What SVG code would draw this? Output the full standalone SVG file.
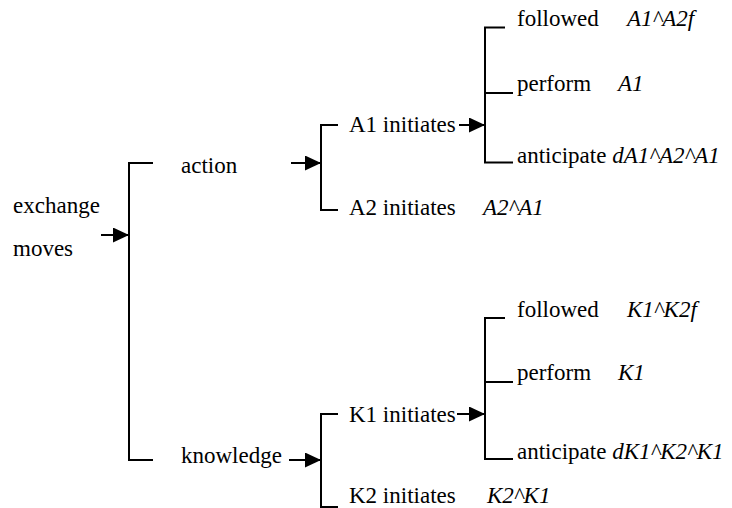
<svg xmlns="http://www.w3.org/2000/svg" width="732" height="508" viewBox="0 0 732 508">
  <style>
    text { font-family: "Liberation Serif", serif; font-size: 23px; fill: #000; }
    .it { font-style: italic; }
    .br { fill: none; stroke: #000; stroke-width: 2; }
    .ar { fill: none; stroke: #000; stroke-width: 2; marker-end: url(#head); }
  </style>
  <defs>
    <marker id="head" markerUnits="userSpaceOnUse" markerWidth="16" markerHeight="15" refX="16" refY="7.5" orient="auto">
      <path d="M0,0 L16,7.5 L0,15 Z" fill="#000"/>
    </marker>
  </defs>
  <rect width="732" height="508" fill="#fff"/>

  <g id="connectors">
    <!-- brackets -->
    <path class="br" d="M153,163 H129 V460 H153"/>
    <path class="br" d="M338,125 H321 V210 H338"/>
    <path class="br" d="M338,414 H321 V507 H338"/>
    <path class="br" d="M505,27.5 H485 V162.5 H513 M485,93 H513"/>
    <path class="br" d="M505,318 H485 V459 H513 M485,382 H513"/>
    <!-- arrows into brackets -->
    <line class="ar" x1="101" y1="235" x2="129" y2="235"/>
    <line class="ar" x1="291" y1="163" x2="321" y2="163"/>
    <line class="ar" x1="459" y1="125" x2="485" y2="125"/>
    <line class="ar" x1="289" y1="460" x2="321" y2="460"/>
    <line class="ar" x1="457" y1="414" x2="485" y2="414"/>
  </g>

  <g id="root">
    <text x="13" y="213">exchange</text>
    <text x="13" y="256">moves</text>
  </g>
  <g id="action"><text x="181" y="173">action</text></g>
  <g id="knowledge"><text x="181" y="463">knowledge</text></g>

  <g id="a1"><text x="349" y="132">A1 initiates</text></g>
  <g id="a2"><text x="349" y="215">A2 initiates</text><text class="it" x="483" y="215">A2^A1</text></g>
  <g id="k1"><text x="349" y="422">K1 initiates</text></g>
  <g id="k2"><text x="349" y="503">K2 initiates</text><text class="it" x="487" y="503">K2^K1</text></g>

  <g id="a-followed"><text x="517" y="26">followed</text><text class="it" x="627" y="26">A1^A2f</text></g>
  <g id="a-perform"><text x="517" y="91">perform</text><text class="it" x="618" y="91">A1</text></g>
  <g id="a-anticipate"><text x="517" y="163">anticipate <tspan class="it">dA1^A2^A1</tspan></text></g>

  <g id="k-followed"><text x="517" y="317">followed</text><text class="it" x="627" y="317">K1^K2f</text></g>
  <g id="k-perform"><text x="517" y="380">perform</text><text class="it" x="618" y="380">K1</text></g>
  <g id="k-anticipate"><text x="517" y="459">anticipate <tspan class="it">dK1^K2^K1</tspan></text></g>
</svg>
